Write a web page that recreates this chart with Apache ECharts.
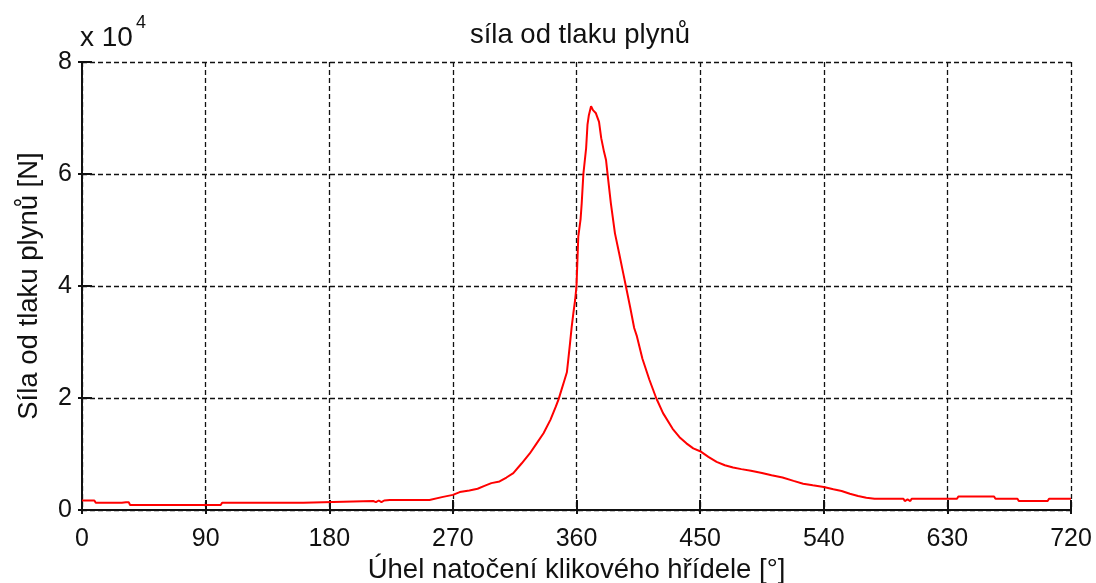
<!DOCTYPE html>
<html><head><meta charset="utf-8">
<script src="https://cdn.jsdelivr.net/npm/echarts@6/dist/echarts.min.js"></script>
<style>html,body{margin:0;padding:0;background:#fff}#c{width:1096px;height:583px}</style>
</head><body><div id="c"></div>
<script>
// Crank angle [deg]
const angles = [0,9,10,29,30,32,34,35,101,102,161,162,212,214,216,218,220,224,253,254,262,270,275,282,288,293,298,304,309,314,320,326,331,336,341,345,347,349,351,353,354,355.3,356.5,357.7,359,360,361.3,363,363.8,365,367,368,369,370.6,372,374,376.4,378,380,381.5,382.7,385,388,391,394,396,399,402,404,408,413,418,423,430,435,440,445,450,456,462,468,474,480,487,495,502,510,518,525,532,540,547,553,559,565,571,577,598,599,601,603,604,637,638,664,665,681,682,703,704,720];
// Gas pressure force [N]
const force = [1700,1700,1300,1300,1100,1400,1400,900,900,1300,1300,1600,1600,1400,1700,1400,1700,1800,1800,2100,2300,2700,3200,3500,3800,4300,4800,5100,5800,6600,8300,10100,11900,13700,16100,18500,19800,21400,23000,24600,26800,29800,32700,35100,37500,40000,48800,52000,54800,60000,64600,68800,70500,72100,71400,70900,69300,66400,64000,62500,59800,54800,49400,45900,42300,39900,36300,32500,31000,27000,23300,20000,17300,14500,13000,11900,11000,10500,9500,8600,8000,7600,7300,7000,6600,6200,5800,5200,4700,4400,4100,3700,3400,2900,2500,2200,2000,2000,1600,1900,1600,2000,2000,2400,2400,2000,2000,1600,1600,2000,2000];
const xTicks = [0,90,180,270,360,450,540,630,720];
const yTicks = [0,2,4,6,8];
const titleText = 'síla od tlaku plynů';
const xName = 'Úhel natočení klikového hřídele [°]';
const yName = 'Síla od tlaku plynů [N]';

const FONT = "'Liberation Sans',Arial,Helvetica,sans-serif";
const chart = echarts.init(document.getElementById('c'), null, {renderer:'canvas'});
const gridLine = {show:true, lineStyle:{color:'#111', type:[5,3], width:1.3}};
chart.setOption({
  animation:false,
  backgroundColor:'#fff',
  title:{text:titleText, left:575, top:16, textAlign:'center',
    textStyle:{fontFamily:FONT, fontSize:27.5, fontWeight:'normal', color:'#111'}},
  grid:{left:82, right:25, top:62, bottom:73, containLabel:false, outerBoundsMode:'none'},
  xAxis:[{type:'value', min:0, max:720, interval:90,
    name:xName, nameLocation:'middle', nameGap:43,
    nameTextStyle:{fontFamily:FONT, fontSize:27.5, color:'#111'},
    axisLine:{show:true, onZero:false, lineStyle:{color:'#111', width:2}},
    axisTick:{show:true, inside:true, length:10, lineStyle:{color:'#111', width:2}},
    axisLabel:{fontFamily:FONT, fontSize:25, color:'#111', margin:17},
    splitLine:gridLine},
   {type:'value', position:'top', min:0, max:720, interval:90,
    axisLine:{show:false}, axisLabel:{show:false}, splitLine:{show:false},
    axisTick:{show:true, inside:true, length:4, lineStyle:{color:'#111', width:2}}}],
  yAxis:[{type:'value', min:0, max:80000, interval:20000,
    name:yName, nameLocation:'middle', nameGap:39, nameRotate:90,
    nameTextStyle:{fontFamily:FONT, fontSize:27.5, color:'#111'},
    axisLine:{show:true, onZero:false, lineStyle:{color:'#111', width:2}},
    axisTick:{show:true, inside:true, length:10, lineStyle:{color:'#111', width:2}},
    axisLabel:{fontFamily:FONT, fontSize:25, color:'#111', margin:10,
      formatter:v=>String(v/10000)},
    splitLine:gridLine},
   {type:'value', position:'right', min:0, max:80000, interval:20000,
    axisLine:{show:false}, axisLabel:{show:false}, splitLine:{show:false},
    axisTick:{show:true, inside:true, length:4, lineStyle:{color:'#111', width:2}}}],
  graphic:[
    {type:'text', left:80, top:24, style:{text:'x 10', font:"28px "+FONT, fill:'#111'}},
    {type:'text', left:136, top:14, style:{text:'4', font:"18px "+FONT, fill:'#111'}}
  ],
  series:[{type:'line', data:angles.map((a,i)=>[a,force[i]]), showSymbol:false,
    lineStyle:{color:'#ff0000', width:2}, itemStyle:{color:'#ff0000'}}]
});
</script></body></html>
